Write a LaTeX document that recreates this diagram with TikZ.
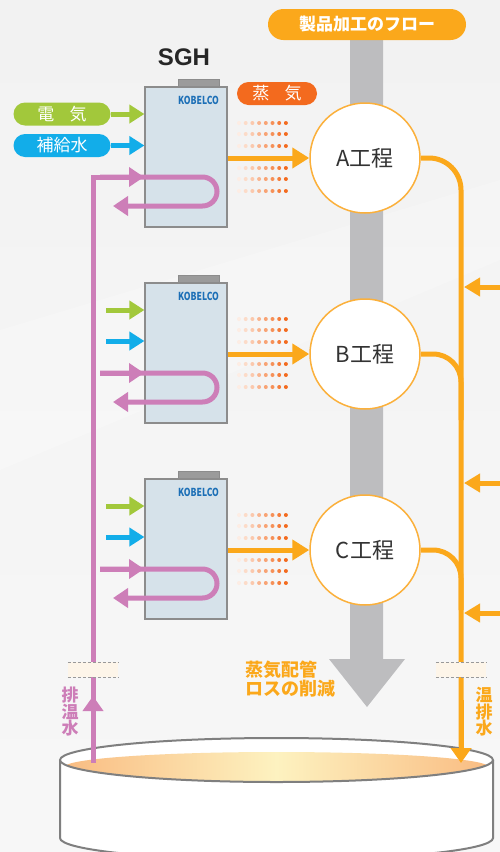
\documentclass[tikz,border=0pt]{standalone}
\usepackage{fontspec}
\setmainfont{Liberation Sans}
\newfontfamily\jp{Noto Sans CJK JP}
\usetikzlibrary{arrows.meta,calc}

\definecolor{bgray}{HTML}{F2F2F2}
\definecolor{flowgray}{HTML}{BDBDBF}
\definecolor{flowor}{HTML}{FBA81B}
\definecolor{steamor}{HTML}{F36A1E}
\definecolor{elecgreen}{HTML}{A2C83B}
\definecolor{waterblue}{HTML}{12ADE9}
\definecolor{pipepink}{HTML}{CD7EB8}
\definecolor{unitfill}{HTML}{D6E2EA}
\definecolor{unitline}{HTML}{8C8C8C}
\definecolor{capfill}{HTML}{9B9B9B}
\definecolor{logoblue}{HTML}{1C6FB6}
\definecolor{ringor}{HTML}{FBB03B}
\definecolor{textdark}{HTML}{333333}
\definecolor{liqedge}{HTML}{F9BC82}
\definecolor{liqmid}{HTML}{FDF2C0}
\definecolor{breakfill}{HTML}{FDF5E9}
\definecolor{tankline}{HTML}{7F7F7F}

\newcommand{\fsz}[1]{\fontsize{#1}{#1}\selectfont}

\tikzset{
  pill/.style={rounded corners=11.5pt, minimum width=97pt, minimum height=23pt,
    inner sep=0pt, text=white, font=\jp\fsz{17}},
  unitbox/.style={draw=unitline, line width=1.2pt, fill=unitfill,
    minimum width=82pt, minimum height=140pt, inner sep=0pt},
  capbox/.style={draw=unitline, line width=0.8pt, fill=capfill,
    minimum width=41pt, minimum height=8pt, inner sep=0pt},
  logo/.style={text=logoblue, font=\jp\bfseries\fsz{11}, inner sep=0pt, xscale=0.78},
  proc/.style={circle, draw=ringor, line width=1.5pt, fill=white,
    minimum size=110pt, inner sep=0pt, text=textdark, font=\jp\fsz{22}},
  feed/.style={line width=5pt, -{Triangle[length=15pt,width=18pt]}},
  pipe/.style={draw=pipepink, line width=5pt},
  steam/.style={draw=flowor, line width=5pt, -{Triangle[length=17pt,width=20pt]}},
  drain/.style={draw=flowor, line width=5pt},
  drainin/.style={drain, -{Triangle[length=16pt,width=18pt]}},
  breakbox/.style={fill=breakfill, minimum width=50pt, minimum height=15pt, inner sep=0pt},
}

\begin{document}
\begin{tikzpicture}[x=1pt, y=-1pt]
  \useasboundingbox (0,0) rectangle (500,852);
  % backdrop
  \shade[top color=bgray, bottom color=bgray!60!white] (0,0) rectangle (500,852);
  \fill[white, opacity=0.22] (0,330) -- (500,180) -- (500,260) -- (0,470) -- cycle;

  % product flow band with arrowhead
  \fill[flowgray] (350,40) -- (383,40) -- (383,659) -- (405,659) -- (367,707)
    -- (329,659) -- (350,659) -- cycle;
  \node[rounded corners=15.5pt, fill=flowor, minimum width=198pt, minimum height=31pt,
    inner sep=0pt, text=white, font=\jp\bfseries\fsz{17}] (flow) at (367,24.5) {製品加工のフロー};

  % labels for the first unit
  \node[font=\bfseries\fsz{24}, text=black!85] (sgh) at (184,57) {SGH};
  \node[pill, fill=steamor, minimum width=80pt] (steam) at (277,93.5) {蒸\hspace{0.9em}気};
  \node[pill, fill=elecgreen] (elec) at (62,114) {電\hspace{0.9em}気};
  \node[pill, fill=waterblue] (water) at (62,145.5) {補給水};

  % return water main (pink)
  \draw[pipe] (93,763) -- (93,177) -- (125,177);

  % outlet main on the right (orange)
  \coordinate (tankin) at (461,763);

  \foreach \i/\t/\lbl in {1/87/A, 2/283/B, 3/479/C}{
    \node[capbox] (cap\i) at (198.5,{\t-4}) {};
    \node[unitbox] (box\i) at (186,{\t+70}) {};
    \node[logo] (logo\i) at (198.5,{\t+13}) {KOBELCO};
    \node[proc] (proc\i) at (365,{\t+71}) {{\lbl}工程};
    % steam dots above and below the steam line
    \foreach \dy in {-35,-24,-12,10,21,33}{
      \foreach \k in {0,...,7}{
        \pgfmathsetmacro\shadeval{12+\k*12.5}
        \fill[steamor!\shadeval!white] ({239+\k*6.7},{\t+71+\dy}) circle (2pt);
      }
    }
    \draw[steam] (box\i.east |- proc\i.west) -- (proc\i.west);
    % pink loop through the unit
    \draw[pipe, rounded corners=14.5pt, -{Triangle[length=15pt,width=19pt]}]
      (100,{\t+90}) -- (217,{\t+90}) -- (217,{\t+119}) -- (113,{\t+119});
    \draw[pipe, -{Triangle[length=15pt,width=19pt]}] (100,{\t+90}) -- (144,{\t+90});
  }

  % feeds into the units
  \draw[feed, draw=elecgreen] (elec.east) -- (elec.east -| box1.west);
  \draw[feed, draw=waterblue] (water.east) -- (water.east -| box1.west);
  \foreach \i/\t in {2/283, 3/479}{
    \coordinate (g\i) at (106,{\t+27});
    \coordinate (b\i) at (106,{\t+58});
    \draw[feed, draw=elecgreen] (g\i) -- (g\i -| box\i.west);
    \draw[feed, draw=waterblue] (b\i) -- (b\i -| box\i.west);
  }

  % drain collecting from the processes
  \draw[drain, rounded corners=32pt, -{Triangle[length=15pt,width=20pt]}]
    (proc1.east) -- (461,158) -- (tankin);
  \draw[drain, rounded corners=28pt] (proc2.east) -- (461,354) -- (461,420);
  \draw[drain, rounded corners=28pt] (proc3.east) -- (461,550) -- (461,610);
  \foreach \j/\y in {1/287, 2/483, 3/613}{
    \coordinate (in\j) at (500,\y);
    \draw[drainin] (in\j) -- (464,\y);
  }

  % arrowhead on the rising pink main
  \coordinate (pinkup) at (93,696);
  \draw[pipe, -{Triangle[length=15pt,width=20pt]}] (93,725) -- (pinkup);

  % pipe breaks
  \foreach \n/\x in {lbreak/93, rbreak/461}{
    \node[breakbox] (\n) at (\x,669.5) {};
    \draw[densely dashed, draw=gray!80, line width=0.6pt] (\n.north west) -- (\n.north east);
    \draw[densely dashed, draw=gray!80, line width=0.6pt] (\n.south west) -- (\n.south east);
  }

  % captions
  \node[text=pipepink, font=\jp\bfseries\fsz{17}, align=center, inner sep=0pt]
    (lcap) at (70,712) {排\\[-0.5pt]温\\[-0.5pt]水};
  \node[text=flowor, font=\jp\bfseries\fsz{17}, align=center, inner sep=0pt]
    (rcap) at (484,712) {温\\[-0.5pt]排\\[-0.5pt]水};
  \node[text=flowor, font=\jp\bfseries\fsz{18}, align=left, anchor=north west, inner sep=0pt]
    (loss) at (245,661) {蒸気配管\\[1pt]ロスの削減};

  % tank
  \filldraw[fill=white, draw=tankline, line width=2pt]
    (60,760) -- (60,838) arc[start angle=180, end angle=360, x radius=216.5pt, y radius=22pt]
    -- (493,760);
  \fill[white] (276.5,760) ellipse [x radius=216.5pt, y radius=22pt];
  \begin{scope}
    \clip (276.5,760) ellipse [x radius=216.5pt, y radius=22pt];
    \shade[left color=liqedge, right color=liqedge, middle color=liqmid]
      (276.5,767) ellipse [x radius=212pt, y radius=15pt];
  \end{scope}
  \draw[draw=tankline, line width=2pt] (276.5,760) ellipse [x radius=216.5pt, y radius=22pt];

  % pipe ends meeting the liquid surface
  \draw[pipe] (93,700) -- (93,763);
  \draw[drain, -{Triangle[length=15pt,width=20pt]}] (461,700) -- (tankin);
\end{tikzpicture}
\end{document}
